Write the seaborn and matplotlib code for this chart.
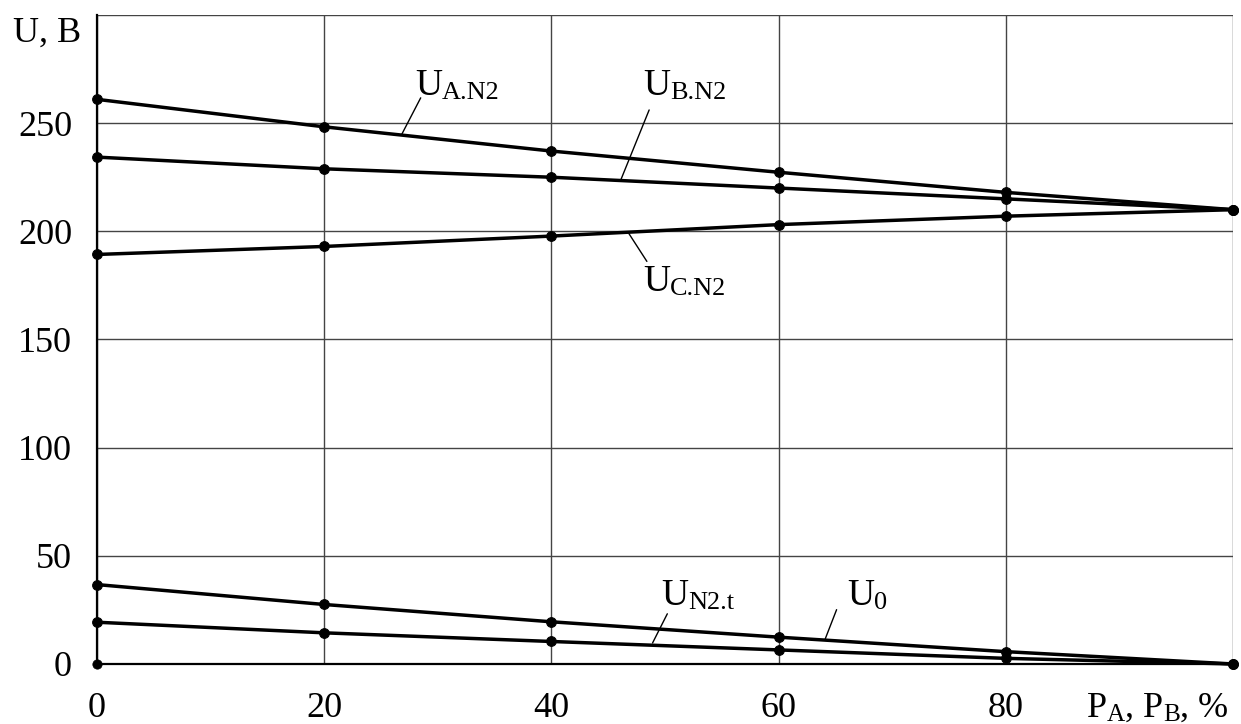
import numpy as np
import pandas as pd
import matplotlib
matplotlib.use("Agg")
import matplotlib.pyplot as plt
import seaborn as sns

# ---- data ----
P = [0, 20, 40, 60, 80, 100]
U_A_N2 = [261.0, 248.3, 237.1, 227.3, 218.0, 210.0]
U_B_N2 = [234.3, 228.9, 225.0, 220.0, 215.0, 210.0]
U_C_N2 = [189.3, 193.0, 197.8, 203.1, 207.0, 210.0]
U_0 = [36.7, 27.5, 19.5, 12.4, 5.7, 0.0]
U_N2_t = [19.3, 14.4, 10.4, 6.5, 2.6, 0.0]
x_ticks = [0, 20, 40, 60, 80, 100]
x_tick_labels = ["0", "20", "40", "60", "80", ""]
y_ticks = [0, 50, 100, 150, 200, 250, 300]
y_tick_labels = ["0", "50", "100", "150", "200", "250", ""]

series = {
    "A": U_A_N2,
    "B": U_B_N2,
    "C": U_C_N2,
    "0": U_0,
    "t": U_N2_t,
}
df = pd.DataFrame(
    [(k, p, u) for k, vals in series.items() for p, u in zip(P, vals)],
    columns=["series", "P", "U"],
)

sns.set_style("white")
plt.rcParams["font.family"] = ["Liberation Serif", "DejaVu Serif"]

DPI = 100
fig = plt.figure(figsize=(12.41, 7.24), dpi=DPI)
ax = fig.add_axes([0.0782, 0.0829, 0.9936 - 0.0782, 0.9793 - 0.0829])

sns.lineplot(
    data=df, x="P", y="U", units="series", estimator=None,
    color="black", lw=2.5, marker="o", markersize=7,
    markeredgecolor="black", ax=ax, zorder=5, clip_on=False,
)
sns.scatterplot(x=[0], y=[0], color="black", edgecolor="black", s=45,
                ax=ax, zorder=6, clip_on=False)

ax.set_xlim(0, 100)
ax.set_ylim(0, 300)
ax.set_xticks(x_ticks)
ax.set_xticklabels(x_tick_labels)
ax.set_yticks(y_ticks)
ax.set_yticklabels(y_tick_labels)
ax.set_xlabel("")
ax.set_ylabel("")
ax.grid(True, color="#444444", lw=1.0)
for s in ["top", "right"]:
    ax.spines[s].set_visible(False)
for s in ["left", "bottom"]:
    ax.spines[s].set_linewidth(1.6)
    ax.spines[s].set_color("black")
    ax.spines[s].set_zorder(4)
ax.tick_params(axis="both", direction="inout", length=12, width=1.3,
               colors="black", labelsize=26)
ax.tick_params(axis="y", pad=12)
ax.tick_params(axis="x", pad=14)

renderer = fig.canvas.get_renderer()


def rich_text(x, y, parts, fs, transform, sub_scale=0.7, drop=3.0):
    """Draw a sequence of (text, is_subscript) parts left to right."""
    offset = 0.0  # in points
    for txt, is_sub in parts:
        size = fs * sub_scale if is_sub else fs
        dy = -drop if is_sub else 0.0
        t = ax.annotate(txt, xy=(x, y), xycoords=transform,
                        xytext=(offset, dy), textcoords="offset points",
                        fontsize=size, ha="left", va="baseline",
                        color="black", annotation_clip=False)
        bb = t.get_window_extent(renderer)
        offset += bb.width * 72.0 / DPI


lab_fs = 27
labels = [
    ("A.N2", 28.0, 263.1, [(28.49, 261.7), (26.81, 244.7)]),
    ("B.N2", 48.06, 263.1, [(48.6, 256.1), (46.1, 223.7)]),
    ("C.N2", 48.06, 172.6, [(48.4, 186.1), (46.8, 199.1)]),
    ("N2.t", 49.7, 27.4, [(50.2, 23.2), (48.9, 9.7)]),
    ("0", 66.0, 27.4, [(65.1, 25.1), (64.1, 11.6)]),
]
for sub, tx, ty, pts in labels:
    rich_text(tx, ty, [("U", False), (sub, True)], lab_fs, ax.transData)
    ax.plot([pts[0][0], pts[1][0]], [pts[0][1], pts[1][1]], color="black", lw=1.0)

rich_text(13 / 1241, 1 - 42 / 724, [("U, B", False)], 26, fig.transFigure)
rich_text(1087 / 1241, 1 - 717 / 724,
          [("P", False), ("A", True), (", P", False), ("B", True), (", %", False)],
          26, fig.transFigure)

fig.savefig("out.png", dpi=DPI, facecolor="white")
